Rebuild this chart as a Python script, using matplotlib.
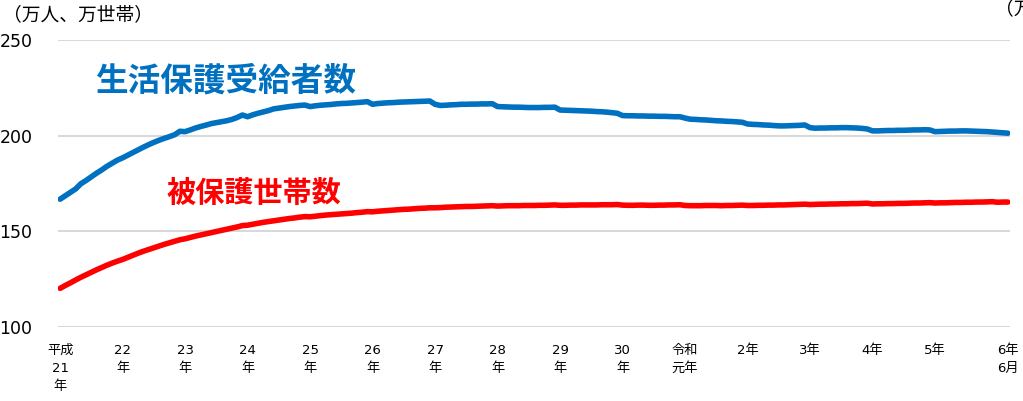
import numpy as np
import matplotlib.pyplot as plt

# 生活保護の被保護者数・世帯数 (月次, 平成21年4月 ～ 令和6年6月), 単位: 万
persons = [
    166.8, 168.6, 170.4, 172.2, 174.9, 176.6, 178.5, 180.4, 182.1, 184.0, 185.6, 187.2,  # H21
    188.4, 189.8, 191.2, 192.6, 194.0, 195.3, 196.5, 197.6, 198.6, 199.5, 200.5, 202.3,  # H22
    202.1, 203.0, 204.0, 204.8, 205.5, 206.3, 206.8, 207.3, 207.8, 208.5, 209.5, 210.8,  # H23
    209.9, 210.9, 211.7, 212.4, 213.1, 214.0, 214.4, 214.8, 215.2, 215.5, 215.8, 216.0,  # H24
    215.2, 215.6, 215.9, 216.1, 216.3, 216.6, 216.8, 216.9, 217.1, 217.3, 217.5, 217.8,  # H25
    216.4, 216.8, 217.0, 217.2, 217.3, 217.5, 217.6, 217.7, 217.8, 217.9, 218.0, 218.1,  # H26
    216.4, 215.8, 215.9, 216.1, 216.2, 216.4, 216.4, 216.5, 216.5, 216.6, 216.6, 216.7,  # H27
    215.2, 215.1, 215.0, 214.9, 214.9, 214.8, 214.7, 214.7, 214.7, 214.8, 214.8, 214.9,  # H28
    213.4, 213.3, 213.2, 213.1, 213.0, 212.9, 212.8, 212.6, 212.5, 212.3, 212.0, 211.7,  # H29
    210.5, 210.4, 210.4, 210.3, 210.3, 210.2, 210.2, 210.1, 210.1, 210.0, 209.9, 209.9,  # H30
    209.2, 208.6, 208.5, 208.3, 208.2, 208.0, 207.8, 207.7, 207.5, 207.4, 207.2, 207.0,  # R1
    206.1, 205.9, 205.8, 205.6, 205.5, 205.3, 205.1, 205.1, 205.2, 205.3, 205.4, 205.6,  # R2
    204.2, 203.9, 204.0, 204.0, 204.1, 204.1, 204.2, 204.2, 204.1, 204.0, 203.8, 203.5,  # R3
    202.5, 202.5, 202.6, 202.7, 202.7, 202.8, 202.8, 202.9, 203.0, 203.0, 203.1, 203.0,  # R4
    202.1, 202.2, 202.3, 202.4, 202.4, 202.5, 202.5, 202.4, 202.3, 202.2, 202.1, 201.9,  # R5
    201.7, 201.5, 201.3,                                                                  # R6
]
households = [
    120.2, 121.7, 123.1, 124.6, 126.0, 127.3, 128.6, 129.9, 131.1, 132.3, 133.4, 134.4,
    135.3, 136.4, 137.5, 138.6, 139.6, 140.5, 141.4, 142.3, 143.2, 144.0, 144.8, 145.6,
    146.1, 146.8, 147.5, 148.1, 148.7, 149.3, 149.9, 150.5, 151.1, 151.7, 152.3, 153.0,
    153.2, 153.7, 154.2, 154.7, 155.1, 155.5, 155.9, 156.3, 156.7, 157.0, 157.4, 157.7,
    157.6, 157.9, 158.2, 158.5, 158.7, 158.9, 159.1, 159.3, 159.5, 159.8, 160.0, 160.3,
    160.2, 160.5, 160.7, 160.9, 161.1, 161.3, 161.5, 161.6, 161.8, 162.0, 162.1, 162.3,
    162.3, 162.4, 162.6, 162.7, 162.8, 162.9, 163.0, 163.0, 163.1, 163.2, 163.3, 163.4,
    163.2, 163.3, 163.4, 163.4, 163.4, 163.5, 163.5, 163.5, 163.6, 163.6, 163.7, 163.8,
    163.6, 163.6, 163.7, 163.7, 163.8, 163.8, 163.8, 163.8, 163.9, 163.9, 163.9, 164.0,
    163.7, 163.6, 163.6, 163.7, 163.7, 163.6, 163.6, 163.7, 163.7, 163.8, 163.8, 163.9,
    163.5, 163.4, 163.4, 163.4, 163.5, 163.5, 163.5, 163.4, 163.5, 163.5, 163.6, 163.7,
    163.5, 163.5, 163.6, 163.6, 163.7, 163.7, 163.8, 163.8, 163.9, 164.0, 164.1, 164.2,
    164.0, 164.1, 164.2, 164.2, 164.3, 164.3, 164.4, 164.4, 164.5, 164.5, 164.6, 164.7,
    164.3, 164.4, 164.4, 164.5, 164.5, 164.6, 164.6, 164.7, 164.8, 164.8, 164.9, 165.0,
    164.8, 164.9, 164.9, 165.0, 165.1, 165.1, 165.2, 165.2, 165.3, 165.3, 165.4, 165.5,
    165.2, 165.3, 165.3,
]

# x軸ラベル (各年4月 + 最終月)
tick_months = [0, 12, 24, 36, 48, 60, 72, 84, 96, 108, 120, 132, 144, 156, 168, 182]
tick_labels = ["平成\n21\n年", "22\n年", "23\n年", "24\n年", "25\n年", "26\n年",
               "27\n年", "28\n年", "29\n年", "30\n年", "令和\n元年", "2年", "3年",
               "4年", "5年", "6年\n6月"]

FONTS = ['DejaVu Sans', 'Noto Sans CJK JP']
plt.rcParams['font.family'] = FONTS

BLUE = '#0070C0'
RED = '#FF0000'

months = np.arange(len(persons))

fig = plt.figure(figsize=(10.23, 4.01), dpi=100)
ax = fig.add_axes([57.5/1023, 74/401, 953/1023, 287/401])

ax.plot(months, persons, color=BLUE, lw=4.0, solid_capstyle='round', solid_joinstyle='round')
ax.plot(months, households, color=RED, lw=4.0, solid_capstyle='round', solid_joinstyle='round')

ax.set_xlim(-0.5, len(persons) - 0.5)
ax.set_ylim(100, 250)
ax.set_yticks([100, 150, 200, 250])
ax.set_xticks(tick_months)
ax.set_xticklabels(tick_labels, fontsize=9.5, linespacing=1.5, va='top')
ax.tick_params(axis='y', length=0, pad=18, labelsize=12.5)
ax.tick_params(axis='x', length=0, pad=12)
ax.grid(axis='y', color='#d9d9d9', lw=1.5)
ax.set_axisbelow(True)
for s in ax.spines.values():
    s.set_visible(False)

# 系列ラベル
ax.text(31.7, 228.6, "生活保護受給者数", color=BLUE, fontsize=23.5, fontweight='bold',
        ha='center', va='center', family='Noto Sans CJK JP')
ax.text(37.2, 170.0, "被保護世帯数", color=RED, fontsize=21, fontweight='bold',
        ha='center', va='center', family='Noto Sans CJK JP')

# 単位 (右側は元図同様に端で切れる)
fig.text(3/1023, 1 - 15/401, "（万人、万世帯）", fontsize=13.5, va='center', ha='left',
         family='Noto Sans CJK JP')
fig.text(995/1023, 1 - 9/401, "（万世帯）", fontsize=13.5, va='center', ha='left',
         family='Noto Sans CJK JP')

fig.savefig('out.png', dpi=100)
